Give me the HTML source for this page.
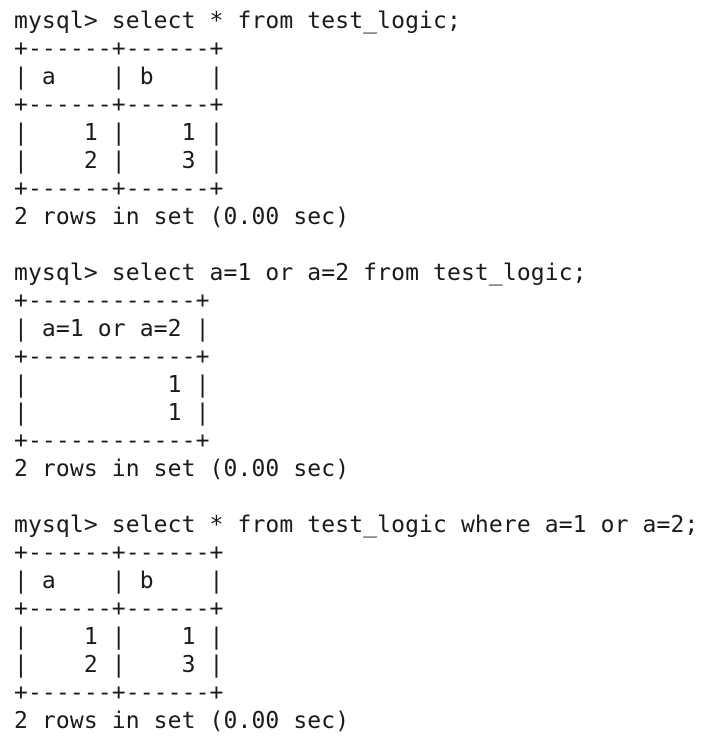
<!DOCTYPE html>
<html><head><meta charset="utf-8"><style>
html,body{margin:0;padding:0;background:#fff;width:706px;height:740px;overflow:hidden}
pre{margin:0;position:absolute;left:14px;top:7px;font-family:"DejaVu Sans Mono","Liberation Mono",monospace;font-size:23px;line-height:28px;color:#1a1a1a;letter-spacing:0.12px}
</style></head><body>
<pre>mysql&gt; select * from test_logic;
+------+------+
| a    | b    |
+------+------+
|    1 |    1 |
|    2 |    3 |
+------+------+
2 rows in set (0.00 sec)

mysql&gt; select a=1 or a=2 from test_logic;
+------------+
| a=1 or a=2 |
+------------+
|          1 |
|          1 |
+------------+
2 rows in set (0.00 sec)

mysql&gt; select * from test_logic where a=1 or a=2;
+------+------+
| a    | b    |
+------+------+
|    1 |    1 |
|    2 |    3 |
+------+------+
2 rows in set (0.00 sec)</pre>
</body></html>
